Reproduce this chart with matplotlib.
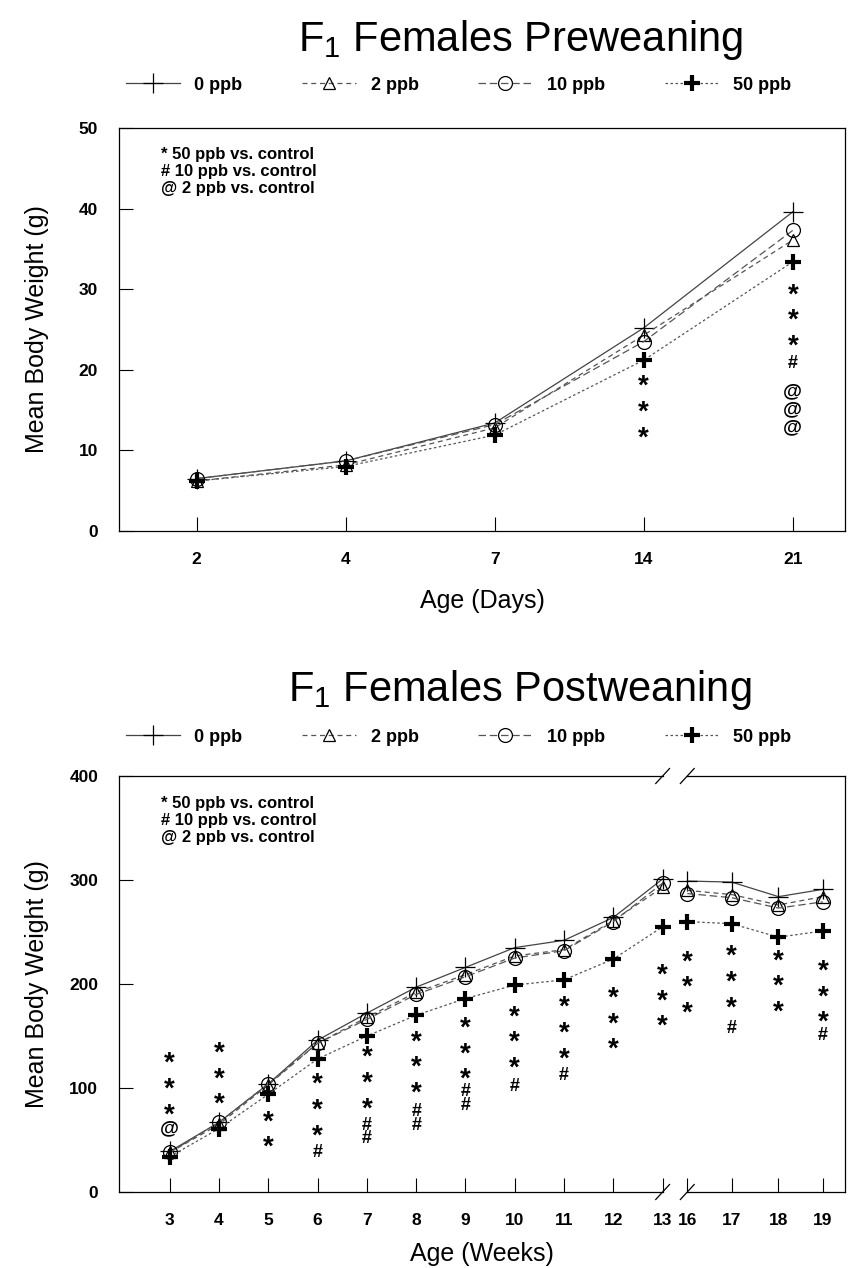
import matplotlib
matplotlib.use('Agg')
import matplotlib.pyplot as plt
import matplotlib.transforms as mtransforms

plt.rcParams['font.family'] = ['Liberation Sans', 'DejaVu Sans']
plt.rcParams['mathtext.fontset'] = 'custom'
plt.rcParams['mathtext.rm'] = 'Liberation Sans'

# ---- preweaning data (g) ----
days = ['2', '4', '7', '14', '21']
pre_0 = [6.5, 8.7, 13.4, 25.2, 39.6]
pre_2 = [6.2, 8.2, 12.8, 24.3, 36.1]
pre_10 = [6.5, 8.7, 13.2, 23.5, 37.3]
pre_50 = [6.2, 8.0, 11.9, 21.2, 33.4]
# significance stacks per day: (symbols, height of the top symbol in g)
pre_sig = {
    '14': [('***', 18.5)],
    '21': [('***', 29.9), ('#', 21.0), ('@@@', 17.2)],
}

# ---- postweaning data (g) ----
weeks = ['3', '4', '5', '6', '7', '8', '9', '10', '11', '12', '13',
         '16', '17', '18', '19']
week_pos = [0, 1, 2, 3, 4, 5, 6, 7, 8, 9, 10, 10.5, 11.4, 12.35, 13.25]
post_0 = [39, 67, 104, 146, 172, 197, 216, 235, 242, 264, 301, 299, 298, 284, 291]
post_2 = [38, 65, 103, 143, 168, 192, 209, 227, 233, 261, 293, 290, 286, 276, 284]
post_10 = [38, 67, 104, 143, 166, 190, 207, 225, 232, 260, 297, 287, 283, 273, 279]
post_50 = [34, 61, 94, 128, 150, 170, 186, 199, 204, 224, 255, 260, 258, 245, 251]
post_sig = {
    '3': [('***', 128), ('@', 60)],
    '4': [('***', 138)],
    '5': [('**', 72)],
    '6': [('***', 108), ('#', 40)],
    '7': [('***', 134), ('##', 66)],
    '8': [('***', 149), ('##', 79)],
    '9': [('***', 162), ('##', 98)],
    '10': [('***', 173), ('#', 103)],
    '11': [('***', 182), ('#', 114)],
    '12': [('***', 191)],
    '13': [('***', 213)],
    '16': [('***', 226)],
    '17': [('***', 231), ('#', 159)],
    '18': [('***', 227)],
    '19': [('***', 217), ('#', 152)],
}

labels = ['0 ppb', '2 ppb', '10 ppb', '50 ppb']
note_lines = ['* 50 ppb vs. control', '# 10 ppb vs. control', '@ 2 ppb vs. control']

styles = [
    dict(color='#444444', lw=0.9, ls='-', marker='+', ms=15, mew=0.9, mec='black'),
    dict(color='#555555', lw=0.9, ls=(0, (4, 3)), marker='^', ms=9, mfc='none', mec='black', mew=0.9),
    dict(color='#555555', lw=0.9, ls=(0, (6, 3)), marker='o', ms=10, mfc='none', mec='black', mew=0.9),
    dict(color='#555555', lw=0.9, ls=(0, (2, 2)), marker='+', ms=12, mew=3, mec='black'),
]

# font size, gap between stacked symbols (px) and glyph centre height (em)
sym_style = {'*': (20, 24, 0.60), '#': (13, 12, 0.51), '@': (14, 18, 0.42)}
LINE_EM = 0.88  # height matplotlib uses per text line, in em


def sig_stack(ax, x, y, syms):
    size, gap, centre = sym_style[syms[0]]
    size_px = size * 100 / 72
    ax.annotate('\n'.join(syms), (x, y), xytext=(0, (LINE_EM - centre) * size),
                textcoords='offset points', ha='center', va='top',
                fontsize=size, fontweight='bold',
                linespacing=gap / (LINE_EM * size_px))


def style_axes(ax, xlabel, xpad):
    ax.tick_params(direction='in', length=10, width=0.8, pad=15,
                   labelsize=12.5, top=False, right=False)
    for lab in ax.get_xticklabels() + ax.get_yticklabels():
        lab.set_fontweight('bold')
    for sp in ax.spines.values():
        sp.set_linewidth(0.9)
    ax.set_xlabel(xlabel, fontsize=18, labelpad=xpad)
    ax.set_ylabel('Mean Body Weight (g)', fontsize=18)
    ax.yaxis.set_label_coords(-0.097, 0.5)
    for i, line in enumerate(note_lines):
        ax.text(0.058, 0.935 - i * 0.042, line, transform=ax.transAxes,
                fontsize=12, fontweight='bold', va='center')


fig = plt.figure(figsize=(8.57, 12.68), dpi=100)
ax1 = fig.add_axes([119 / 857, 1 - 531 / 1268, 726 / 857, 403 / 1268])
ax2 = fig.add_axes([119 / 857, 1 - 1192 / 1268, 726 / 857, 416 / 1268])

legend_kw = dict(ncol=4, loc='center', frameon=False, handlelength=3.0,
                 handletextpad=0.8, columnspacing=3.3, numpoints=1,
                 prop=dict(weight='bold', size=13))

# ---------- top: preweaning ----------
xpos = list(range(len(days)))
handles = []
for ys, st in zip([pre_0, pre_2, pre_10, pre_50], styles):
    h, = ax1.plot(xpos, ys, **st)
    handles.append(h)
for d, groups in pre_sig.items():
    for syms, y in groups:
        sig_stack(ax1, days.index(d), y, syms)

ax1.set_xlim(-0.52, 4.35)
ax1.set_ylim(0, 50)
ax1.set_xticks(xpos)
ax1.set_xticklabels(days)
ax1.set_yticks([0, 10, 20, 30, 40, 50])
style_axes(ax1, 'Age (Days)', 16)

fig.text(0.607, 1 - 40 / 1268, r'F$_\mathrm{1}$ Females Preweaning', fontsize=30,
         ha='center', va='center')
fig.legend(handles, labels, bbox_to_anchor=(0.535, 1 - 85 / 1268), **legend_kw)

# ---------- bottom: postweaning ----------
for ys, st in zip([post_0, post_2, post_10, post_50], styles):
    ax2.plot(week_pos[:11], ys[:11], **st)
    ax2.plot(week_pos[11:], ys[11:], **st)
for w, groups in post_sig.items():
    for syms, y in groups:
        sig_stack(ax2, week_pos[weeks.index(w)], y, syms)

ax2.set_xlim(-1.03, 13.7)
ax2.set_ylim(0, 400)
ax2.set_xticks(week_pos)
ax2.set_xticklabels(weeks)
ax2.set_yticks([0, 100, 200, 300, 400])
style_axes(ax2, 'Age (Weeks)', 10)

# axis break between week 13 and week 16
ax2.spines['top'].set_visible(False)
ax2.spines['bottom'].set_visible(False)
trans = mtransforms.blended_transform_factory(ax2.transData, ax2.transAxes)
x13, x16 = week_pos[10], week_pos[11]
for yy in (0, 1):
    ax2.plot([-1.03, x13], [yy, yy], color='black', lw=0.9, transform=trans, clip_on=False)
    ax2.plot([x16, 13.7], [yy, yy], color='black', lw=0.9, transform=trans, clip_on=False)
    for xb in (x13, x16):
        ax2.plot([xb - 0.14, xb + 0.14], [yy - 0.018, yy + 0.018], color='black',
                 lw=0.9, transform=trans, clip_on=False)

fig.text(0.607, 1 - 690 / 1268, r'F$_\mathrm{1}$ Females Postweaning', fontsize=30,
         ha='center', va='center')
fig.legend(handles, labels, bbox_to_anchor=(0.535, 1 - 737 / 1268), **legend_kw)

fig.savefig('out.png', dpi=100)
